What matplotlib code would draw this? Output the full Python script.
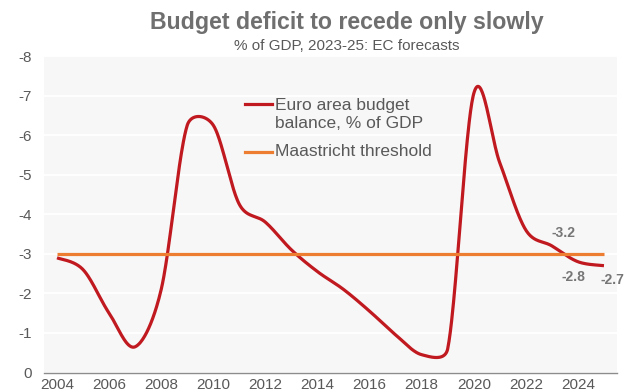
import numpy as np
import matplotlib
matplotlib.use("Agg")
import matplotlib.pyplot as plt
from matplotlib.lines import Line2D

plt.rcParams['font.family'] = ['Liberation Sans', 'DejaVu Sans']

# Euro area general government balance, % of GDP (2023-25: EC forecasts)
years = list(range(2004, 2026))
balance = [-2.9, -2.6, -1.5, -0.65, -2.1, -6.25, -6.25, -4.25, -3.8, -3.1, -2.55,
           -2.1, -1.55, -0.95, -0.45, -0.6, -7.05, -5.3, -3.6, -3.2, -2.8, -2.7]
maastricht = -3.0
labelled_years = [2023, 2024, 2025]
label_offsets = {2023: (8.5, 9.5), 2024: (-3.0, -11.0), 2025: (6.0, -10.5)}

y_ticks = [0, -1, -2, -3, -4, -5, -6, -7, -8]
x_ticks = list(range(2004, 2025, 2))

RED = '#C0191F'
ORANGE = '#ED7D31'
GREY_TXT = '#595959'
TITLE_GREY = '#6F6F6F'


def smooth_curve(ax, x, y, steps=40):
    """Spreadsheet-style smoothed line: cubic Bezier segments whose control
    handles follow the neighbour chord (1/6) but never exceed half of the
    segment length, measured in display space."""
    data = np.column_stack([np.asarray(x, float), np.asarray(y, float)])
    pts = ax.transData.transform(data)
    n = len(pts)
    out = []
    for i in range(n - 1):
        p0 = pts[max(i - 1, 0)]
        p1 = pts[i]
        p2 = pts[i + 1]
        p3 = pts[min(i + 2, n - 1)]
        seg_len = np.hypot(*(p2 - p1))
        t1 = (p2 - p0) / 6.0
        t2 = (p3 - p1) / 6.0
        l1 = np.hypot(*t1)
        l2 = np.hypot(*t2)
        if l1 > seg_len / 2 and l1 > 0:
            t1 = t1 * (seg_len / 2) / l1
        if l2 > seg_len / 2 and l2 > 0:
            t2 = t2 * (seg_len / 2) / l2
        c1 = p1 + t1
        c2 = p2 - t2
        t = np.linspace(0, 1, steps, endpoint=(i == n - 2))[:, None]
        seg = ((1 - t) ** 3) * p1 + 3 * ((1 - t) ** 2) * t * c1 \
            + 3 * (1 - t) * t ** 2 * c2 + t ** 3 * p2
        out.append(seg)
    out = ax.transData.inverted().transform(np.vstack(out))
    return out[:, 0], out[:, 1]


W, H = 634, 392
fig = plt.figure(figsize=(W / 100, H / 100), dpi=100)
fig.patch.set_facecolor('white')

left, right, top, bottom = 44, 617, 56, 372.5
ax = fig.add_axes([left / W, 1 - bottom / H, (right - left) / W, (bottom - top) / H])
ax.set_facecolor('#F7F7F7')
ax.set_xlim(2003.5, 2025.5)
ax.set_ylim(0, -8)

sx, sy = smooth_curve(ax, years, balance)
ax.plot(sx, sy, color=RED, lw=2.3, solid_capstyle='butt', zorder=3)
ax.plot(years, [maastricht] * len(years), color=ORANGE, lw=2.3,
        solid_capstyle='butt', zorder=4)

for yr in labelled_years:
    v = balance[years.index(yr)]
    ax.annotate(f"{v:.1f}", xy=(yr, v), xytext=label_offsets[yr],
                textcoords='offset points', ha='center', va='center',
                fontsize=10, fontweight='bold', color='#767676', zorder=5)

ax.set_yticks(y_ticks)
ax.set_yticklabels([str(v) for v in y_ticks])
ax.set_xticks(x_ticks)
ax.set_xticklabels([str(v) for v in x_ticks])
ax.tick_params(axis='both', length=0, labelsize=11, colors=GREY_TXT)
ax.tick_params(axis='y', pad=9)
ax.tick_params(axis='x', pad=4)
ax.grid(axis='y', color='white', lw=1.3)
ax.set_axisbelow(True)
for s in ['top', 'right', 'left']:
    ax.spines[s].set_visible(False)
ax.spines['bottom'].set_color('#8C8C8C')
ax.spines['bottom'].set_linewidth(1.0)


# Legend drawn by hand so the red key sits beside the first text line
def fx(px):
    return px / W


def fy(py):
    return 1 - py / H


fig.add_artist(Line2D([fx(245), fx(272)], [fy(104), fy(104)], color=RED, lw=2.3))
fig.add_artist(Line2D([fx(245), fx(272)], [fy(152), fy(152)], color=ORANGE, lw=2.3))
fig.text(fx(275), fy(114.5), "Euro area budget\nbalance, % of GDP", ha='left',
         va='center', fontsize=12.5, color=GREY_TXT, linespacing=1.3)
fig.text(fx(275), fy(152), "Maastricht threshold", ha='left', va='center',
         fontsize=12.5, color=GREY_TXT)

fig.text(fx(347), fy(22), "Budget deficit to recede only slowly", ha='center',
         va='center', fontsize=16.7, fontweight='bold', color=TITLE_GREY)
fig.text(fx(347), fy(46), "% of GDP, 2023-25: EC forecasts", ha='center',
         va='center', fontsize=11, color=GREY_TXT)

fig.savefig('out.png', dpi=100)
